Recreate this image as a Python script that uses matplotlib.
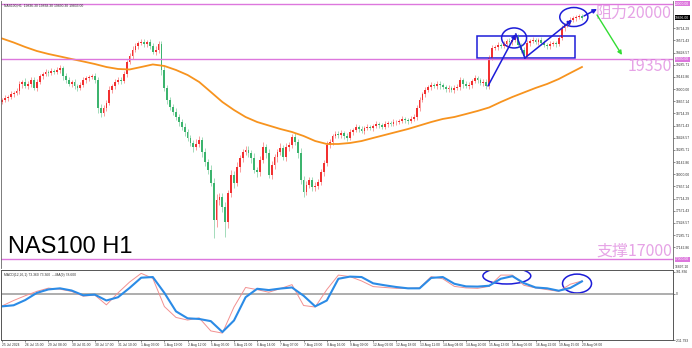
import numpy as np
import matplotlib.pyplot as plt
from matplotlib.patches import Rectangle, Ellipse
import matplotlib.transforms as mtransforms

# 2-hour candles (25 Jul - 20 Aug 2024)
closes = [
    18873, 18896, 18908, 18943, 18955, 18978, 19061, 19084, 19037, 19061,
    19108, 19014, 19084, 19155, 19178, 19202, 19190, 19213, 19202, 19225,
    19249, 19155, 19108, 19061, 19084, 19037, 19014, 19049, 19108, 19131,
    19143, 19150, 19108, 18779, 18720, 18779, 18838, 18990, 19037, 19084,
    19108, 19100, 19178, 19319, 19389, 19460, 19507, 19542, 19554, 19530,
    19554, 19507, 19436, 19460, 19530, 19225, 19014, 18873, 18791, 18732,
    18673, 18614, 18556, 18497, 18427, 18368, 18321, 18356, 18403, 18262,
    18145, 18051, 17898, 17464, 17699, 17734, 17616, 17440, 17781, 17992,
    17898, 18086, 18192, 18262, 18286, 18250, 18192, 18051, 18027, 18168,
    18321, 18250, 17992, 18110, 18204, 18262, 18309, 18204, 18321, 18344,
    18438, 18380, 18250, 17933, 17792, 17875, 17933, 17851, 17863, 17910,
    18027, 18133, 18344, 18380, 18450, 18474, 18462, 18485, 18450, 18427,
    18497, 18521, 18556, 18532, 18509, 18544, 18556, 18544, 18567, 18591,
    18579, 18556, 18591, 18603, 18591, 18614, 18620, 18626, 18650, 18638,
    18626, 18650, 18673, 18779, 18873, 18943, 18990, 19025, 19049, 19037,
    19061, 19049, 19025, 19002, 19014, 18990, 19014, 19025, 19108, 19061,
    19037, 19049, 19096, 19131, 19108, 19072, 19084, 19037, 19366, 19483,
    19495, 19519, 19507, 19530, 19566, 19554, 19577, 19612, 19519, 19460,
    19389, 19542, 19566, 19577, 19554, 19577, 19542, 19519, 19507, 19530,
    19542, 19530, 19601, 19718, 19753, 19789, 19812, 19836, 19847, 19859,
    19836,
]
first_open = 18850

wick_hi = [
    25, 30, 20, 35, 25, 40, 30, 25, 45, 30, 35, 40, 30, 25, 20, 30, 25, 35, 20, 30,
    40, 25, 30, 35, 20, 30, 25, 35, 30, 20, 25, 30, 40, 35, 50, 40, 30, 45, 25, 30,
    35, 30, 40, 25, 30, 45, 35, 25, 30, 40, 25, 35, 30, 45, 40, 30, 50, 35, 30, 40,
    45, 30, 35, 50, 40, 35, 30, 60, 45, 35, 50, 40, 55, 60, 70, 45, 50, 60, 40, 55,
    45, 60, 40, 35, 50, 45, 40, 55, 35, 45, 60, 40, 50, 45, 35, 40, 55, 30, 45, 40,
    35, 50, 40, 55, 45, 50, 35, 40, 45, 30, 40, 35, 45, 30, 25, 35, 30, 40, 25, 30,
    30, 25, 35, 20, 30, 25, 30, 20, 25, 35, 20, 25, 30, 20, 25, 30, 20, 25, 30, 20,
    25, 30, 35, 40, 30, 25, 35, 20, 30, 25, 30, 35, 20, 25, 30, 25, 35, 40, 30, 25,
    30, 35, 25, 30, 20, 25, 30, 35, 40, 30, 25, 30, 20, 35, 25, 30, 20, 35, 30, 25,
    30, 35, 25, 30, 20, 25, 30, 35, 25, 30, 20, 25, 40, 30, 25, 20, 30, 25, 20, 25,
    20,
]
wick_lo = [
    30, 20, 35, 25, 40, 20, 30, 45, 25, 35, 30, 25, 40, 20, 30, 25, 35, 20, 30, 25,
    30, 45, 35, 25, 40, 30, 35, 20, 25, 30, 35, 25, 30, 60, 45, 35, 30, 25, 40, 30,
    25, 35, 30, 40, 25, 30, 20, 35, 25, 30, 40, 30, 25, 35, 30, 60, 40, 45, 30, 35,
    40, 50, 35, 45, 40, 30, 55, 40, 35, 60, 45, 50, 40, 212, 80, 60, 55, 176, 70, 50,
    60, 40, 55, 45, 35, 50, 60, 40, 55, 45, 40, 60, 35, 50, 45, 55, 40, 35, 50, 45,
    40, 35, 55, 45, 60, 40, 35, 50, 45, 40, 35, 45, 30, 40, 35, 25, 30, 35, 40, 30,
    25, 30, 20, 35, 25, 30, 20, 25, 30, 20, 35, 25, 20, 30, 25, 20, 30, 25, 20, 30,
    30, 25, 20, 30, 35, 25, 30, 20, 35, 25, 30, 45, 25, 30, 35, 25, 30, 20, 35, 45,
    25, 30, 35, 20, 30, 25, 40, 35, 30, 25, 20, 30, 25, 20, 30, 25, 30, 20, 25, 35,
    35, 25, 30, 20, 25, 30, 20, 25, 35, 30, 25, 30, 20, 25, 30, 20, 25, 20, 30, 25,
    20,
]

# slow moving average, sampled every 4 candles
ma_vals = [19595, 19548, 19495, 19448, 19413, 19384, 19354, 19325, 19295, 19260,
           19237, 19231, 19260, 19290, 19272, 19225, 19166, 19084, 18967, 18849,
           18755, 18673, 18614, 18573, 18532, 18497, 18450, 18391, 18356, 18356,
           18368, 18391, 18427, 18462, 18497, 18532, 18573, 18614, 18650, 18673,
           18708, 18744, 18785, 18849, 18908, 18961, 19014, 19061, 19119, 19190,
           19260]

# MACD panel, sampled every 4 candles
macd_signal = [-57, -52, -28, 5, 21, 26, 16, -6, -3, -30, -15, 28, 75, 78, 5, -80,
               -112, -115, -125, -175, -122, -15, 24, 18, 25, 30, -8, -57, -30, 70,
               80, 78, 49, 40, 32, 26, 26, 74, 78, 47, 35, 34, 38, 70, 82, 50, 30,
               26, 15, 28, 58]
macd_main = [-55, -30, -8, 12, 27, 22, 12, -10, -5, -50, 5, 55, 95, 72, -58, -108,
             -120, -110, -170, -180, -60, 30, 20, 8, 25, 43, -53, -60, 20, 87, 80,
             60, 34, 30, 26, 26, 28, 80, 70, 35, 28, 26, 35, 87, 87, 40, 28, 20, 12,
             45, 60]

levels = [20000, 19350, 17000]
level_texts = ["阻力20000", "19350", "支撑17000"]
price_ticks = [19714.29, 19571.43, 19428.57, 19285.71, 19142.86, 19000.00,
               18857.14, 18714.29, 18571.43, 18428.57, 18285.71, 18142.86,
               18000.00, 17857.14, 17714.29, 17571.43, 17428.57, 17285.71,
               17142.86]
time_labels = ["25 Jul 2024", "26 Jul 15:00", "29 Jul 08:00", "30 Jul 01:00",
               "30 Jul 17:00", "31 Jul 10:00", "1 Aug 03:00", "1 Aug 19:00",
               "2 Aug 12:00", "5 Aug 05:00", "5 Aug 21:00", "6 Aug 14:00",
               "7 Aug 07:00", "7 Aug 23:00", "8 Aug 16:00", "9 Aug 09:00",
               "12 Aug 02:00", "12 Aug 18:00", "13 Aug 11:00", "14 Aug 04:00",
               "14 Aug 20:00", "15 Aug 13:00", "16 Aug 06:00", "16 Aug 22:00",
               "19 Aug 15:00", "20 Aug 08:00"]

MAGENTA = "#dd77dd"
LABEL_PINK = "#e6a3e6"
ANNOT = "#1c1cd8"
SMALL = dict(fontsize=2.4, family="Liberation Sans")

closes = np.array(closes, dtype=float)
opens = np.concatenate([[first_open], closes[:-1]])
highs = np.maximum(opens, closes) + np.array(wick_hi)
lows = np.minimum(opens, closes) - np.array(wick_lo)
idx = np.arange(len(closes))
up = closes >= opens

fig = plt.figure(figsize=(6.92, 3.48), dpi=100)
W, H = 692.0, 348.0
ax = fig.add_axes([1 / W, 1 - 268 / H, 672 / W, 267 / H])
ax2 = fig.add_axes([1 / W, 1 - 340 / H, 672 / W, 70 / H])
xlim = (-0.35, 231.4)

# candles
col = np.where(up, "#f23030", "#3cb46e")
ax.vlines(idx, lows, highs, colors=col, lw=0.6, alpha=0.55)
body = np.maximum(np.abs(closes - opens), 6)
ax.bar(idx, body, bottom=np.minimum(opens, closes), width=0.62, color=col, lw=0)

ax.plot(np.arange(0, len(closes), 4), ma_vals, color="#f7931e", lw=1.3)

for lv in levels:
    ax.axhline(lv, color=MAGENTA, lw=1.0)

ax.set_xlim(*xlim)
ax.set_ylim(16900, 20035)
ax.set_xticks([])
ax.yaxis.tick_right()
ax.set_yticks(price_ticks)
ax.set_yticklabels([f"{t:.2f}" for t in price_ticks], **SMALL)
ax.tick_params(axis="y", length=1.5, width=0.4, pad=0.8, colors="#333333")
for s in ["top", "bottom"]:
    ax.spines[s].set_visible(False)
for s in ["left", "right"]:
    ax.spines[s].set_color("#666666")
    ax.spines[s].set_linewidth(0.6)

# price tags on the right axis
tr = mtransforms.blended_transform_factory(ax.transAxes, ax.transData)
for lv in levels:
    ax.text(1.003, lv, f"{lv:.2f}", transform=tr, color="white", va="center", ha="left",
            bbox=dict(boxstyle="square,pad=0.15", fc=MAGENTA, ec="none"), **SMALL)
ax.text(1.003, closes[-1], f"{closes[-1]:.2f}", transform=tr, color="white",
        va="center", ha="left", bbox=dict(boxstyle="square,pad=0.15", fc="black", ec="none"),
        **SMALL)
ax.text(1.003, 16915, "16897.10", transform=tr, color="#333333", va="center", ha="left", **SMALL)

# level captions
cjk = ["Noto Sans CJK SC", "DejaVu Sans"]
ax.text(0.9985, 19894, level_texts[0], transform=tr, ha="right", va="center",
        fontsize=11.5, color=LABEL_PINK, family=cjk)
ax.text(0.9985, 19262, level_texts[1], transform=tr, ha="right", va="center",
        fontsize=11.5, color=LABEL_PINK, family=cjk)
ax.text(0.9985, 17094, level_texts[2], transform=tr, ha="right", va="center",
        fontsize=11.5, color=LABEL_PINK, family=cjk)

ax.text(0.01, 0.079, "NAS100 H1", transform=ax.transAxes, fontsize=17, va="center",
        ha="left", family="Liberation Sans", color="black")
ax.text(0.004, 0.992, "NAS100,H1  19836.30 19838.30 19830.30 19833.00",
        transform=ax.transAxes, va="top", ha="left", color="#333333", **SMALL)

# hand-drawn style annotations
ax.add_patch(Rectangle((163.8, 19366), 33.8, 259, fill=False, ec=ANNOT, lw=1.1))
ax.add_patch(Ellipse((176.6, 19601), 8.6, 235, fill=False, ec=ANNOT, lw=1.1))
ax.add_patch(Ellipse((197.2, 19847), 9.7, 223, fill=False, ec=ANNOT, lw=1.1))
arr = dict(arrowstyle="-|>", color=ANNOT, lw=1.1, mutation_scale=6, shrinkA=0, shrinkB=0)
ax.annotate("", xy=(177.2, 19648), xytext=(167.6, 19037), arrowprops=arr)
ax.plot([177.2, 180.3], [19648, 19366], color=ANNOT, lw=1.1)
ax.annotate("", xy=(196.6, 19812), xytext=(180.3, 19366), arrowprops=arr)
ax.annotate("", xy=(205.2, 19941), xytext=(200.7, 19859), arrowprops=arr)
ax.annotate("", xy=(213.8, 19401), xytext=(205.2, 19871),
            arrowprops=dict(arrowstyle="-|>", color="#33dd33", lw=1.0, mutation_scale=6,
                            shrinkA=0, shrinkB=0))

# MACD panel
midx = np.arange(0, len(closes), 4)
ax2.axhline(0, color="#a0a0a0", lw=1.2)
ax2.plot(midx, macd_main, color="#f29090", lw=0.7)
ax2.plot(midx, macd_signal, color="#2b8be6", lw=1.5)
ax2.add_patch(Ellipse((174.1, 83), 16.5, 74, fill=False, ec=ANNOT, lw=1.1))
ax2.add_patch(Ellipse((198.3, 48), 10.0, 87, fill=False, ec=ANNOT, lw=1.1))
ax2.set_xlim(*xlim)
ax2.set_ylim(-211.793, 110.4)
ax2.yaxis.tick_right()
ax2.set_yticks([101.836, 0, -211.793])
ax2.set_yticklabels(["101.836", "0", "-211.793"], **SMALL)
ax2.tick_params(axis="y", length=1.5, width=0.4, pad=0.8, colors="#333333")
ax2.set_xticks(np.arange(0, len(closes), 8))
ax2.set_xticklabels(time_labels, ha="left", **SMALL)
ax2.tick_params(axis="x", length=1.5, width=0.4, pad=0.8, colors="#333333")
for s in ax2.spines.values():
    s.set_color("#555555")
    s.set_linewidth(0.7)
ax2.text(0.004, 0.96, "MACD(12,26,1) 73.360 73.360  ---MA(9) 78.600",
         transform=ax2.transAxes, va="top", ha="left", color="#333333", **SMALL)

fig.savefig("out.png", dpi=100)
